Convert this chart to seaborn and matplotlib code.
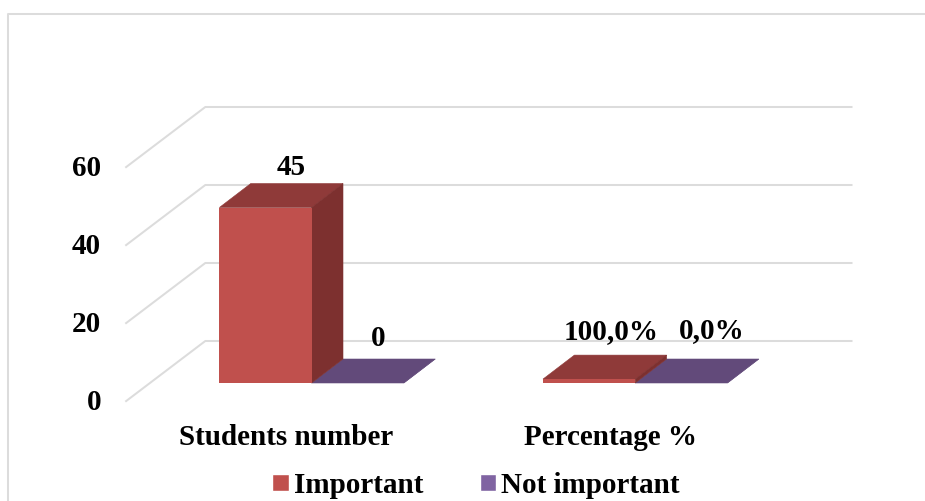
import matplotlib
matplotlib.use("Agg")
import matplotlib.pyplot as plt
import pandas as pd
import seaborn as sns
from matplotlib.lines import Line2D
from matplotlib.patches import Polygon, Patch
from matplotlib.transforms import Affine2D

categories = ["Students number", "Percentage %"]
series_names = ["Important", "Not important"]
important = [45, 1.0]
not_important = [0, 0.0]
y_ticks = [0, 20, 40, 60]

RED, PURPLE = "#C0504D", "#8064A2"
TOP = {RED: "#8F3A39", PURPLE: "#624A7A"}
SIDE = {RED: "#7D302F", PURPLE: "#624A7A"}
GRID = "#DCDCDC"

W, H = 925, 501
sns.set_theme(style="white")
plt.rcParams["font.family"] = ["Liberation Serif"]
plt.rcParams["font.weight"] = "bold"
FS = 21

table = pd.DataFrame({
    "category": categories * 2,
    "series": [series_names[0]] * 2 + [series_names[1]] * 2,
    "value": important + not_important,
})

fig = plt.figure(figsize=(W / 100, H / 100), dpi=100, facecolor="white")
ax = fig.add_axes([149.8 / W, 1 - 383 / H, (797.0 - 149.8) / W, 234 / H])
ax.patch.set_alpha(0)
sns.barplot(data=table, x="category", y="value", hue="series", hue_order=series_names,
            palette=[RED, PURPLE], width=0.570, gap=0, saturation=1, legend=False,
            ax=ax, zorder=3, linewidth=0)
ax.set_xlim(-0.5, 1.5)
ax.set_ylim(0, 60)
ax.set_xlabel("")
ax.set_ylabel("")
sns.despine(ax=ax, left=True, bottom=True)

# Conversion factors between screen pixels and data units for the oblique projection
px_x = (ax.get_xlim()[1] - ax.get_xlim()[0]) / (797.0 - 149.8)
px_y = (ax.get_ylim()[1] - ax.get_ylim()[0]) / 234

# Back wall: each gridline runs from the front edge, to the back, and along the wall
fx, fy = -24.5 * px_x, -18.7 * px_y
bx, by = 55.5 * px_x, 42.0 * px_y
for t in y_ticks:
    ax.plot([-0.5 + fx, -0.5 + bx, 1.5 + bx], [t + fy, t + by, t + by],
            color=GRID, lw=1.45, clip_on=False, zorder=1, solid_capstyle="butt")

# Oblique top and side faces for every bar
dx, dy = 31.4 * px_x, 24.0 * px_y
for colour, level, container in zip([RED, PURPLE], [6, 4], ax.containers):
    for bar in container:
        x0, w, h = bar.get_x(), bar.get_width(), bar.get_height()
        x1 = x0 + w
        ax.add_patch(Polygon([(x0, h), (x1, h), (x1 + dx, h + dy), (x0 + dx, h + dy)],
                             facecolor=TOP[colour], edgecolor=TOP[colour], lw=0.4,
                             clip_on=False, zorder=level))
        ax.add_patch(Polygon([(x1, 0), (x1 + dx, dy), (x1 + dx, h + dy), (x1, h)],
                             facecolor=SIDE[colour], edgecolor=SIDE[colour], lw=0.4,
                             clip_on=False, zorder=level))
        bar.set_zorder(level + 1)
        bar.set_clip_on(False)

# Value labels above the bars
texts = [f"{important[0]:d}", f"{not_important[0]:d}",
         f"{important[1] * 100:.1f}%".replace(".", ","),
         f"{not_important[1] * 100:.1f}%".replace(".", ",")]
bars = [ax.containers[0][0], ax.containers[1][0], ax.containers[0][1], ax.containers[1][1]]
offsets_px = [(26, 40), (20, 44), (22, 48), (30, 52)]
for bar, text, (ox, oy) in zip(bars, texts, offsets_px):
    ax.annotate(text, (bar.get_x() + bar.get_width() / 2, bar.get_height()),
                xytext=(ox * 0.72, oy * 0.72), textcoords="offset points",
                ha="center", va="center", fontsize=FS, fontweight="bold",
                color="black", annotation_clip=False, zorder=10)

# Axis labels sit on the front edge of the wall, so they are shifted off the bar plane
ax.set_yticks(y_ticks)
ax.set_yticklabels([str(t) for t in y_ticks], fontsize=FS, fontweight="bold", color="black")
ax.tick_params(axis="y", length=0, pad=35)
ax.set_xticks(range(len(categories)))
ax.set_xticklabels(categories, fontsize=FS, fontweight="bold", color="black")
ax.tick_params(axis="x", length=0, pad=29.5)
for label in ax.get_yticklabels():
    label.set_transform(label.get_transform() + Affine2D().translate(0, -16.7))
for label in ax.get_xticklabels():
    label.set_transform(label.get_transform() + Affine2D().translate(-25, 0))

handles = [Patch(facecolor=RED, label=series_names[0]), Patch(facecolor=PURPLE, label=series_names[1])]
legend = ax.legend(handles=handles, loc="center", bbox_to_anchor=(476 / W, 1 - 485.5 / H),
                   bbox_transform=fig.transFigure, ncol=2, frameon=False,
                   prop={"family": "Liberation Serif", "weight": "bold", "size": FS},
                   handlelength=0.56, handleheight=0.5, handletextpad=0.17, columnspacing=1.95,
                   borderpad=0, borderaxespad=0, labelcolor="black")

# Chart area border: only the left and top edges fall inside the canvas
fig.add_artist(Line2D([8 / W, 8 / W, 1], [0, 1 - 13.5 / H, 1 - 13.5 / H],
                      color=GRID, lw=1.45, transform=fig.transFigure))

fig.savefig("out.png", dpi=100)
